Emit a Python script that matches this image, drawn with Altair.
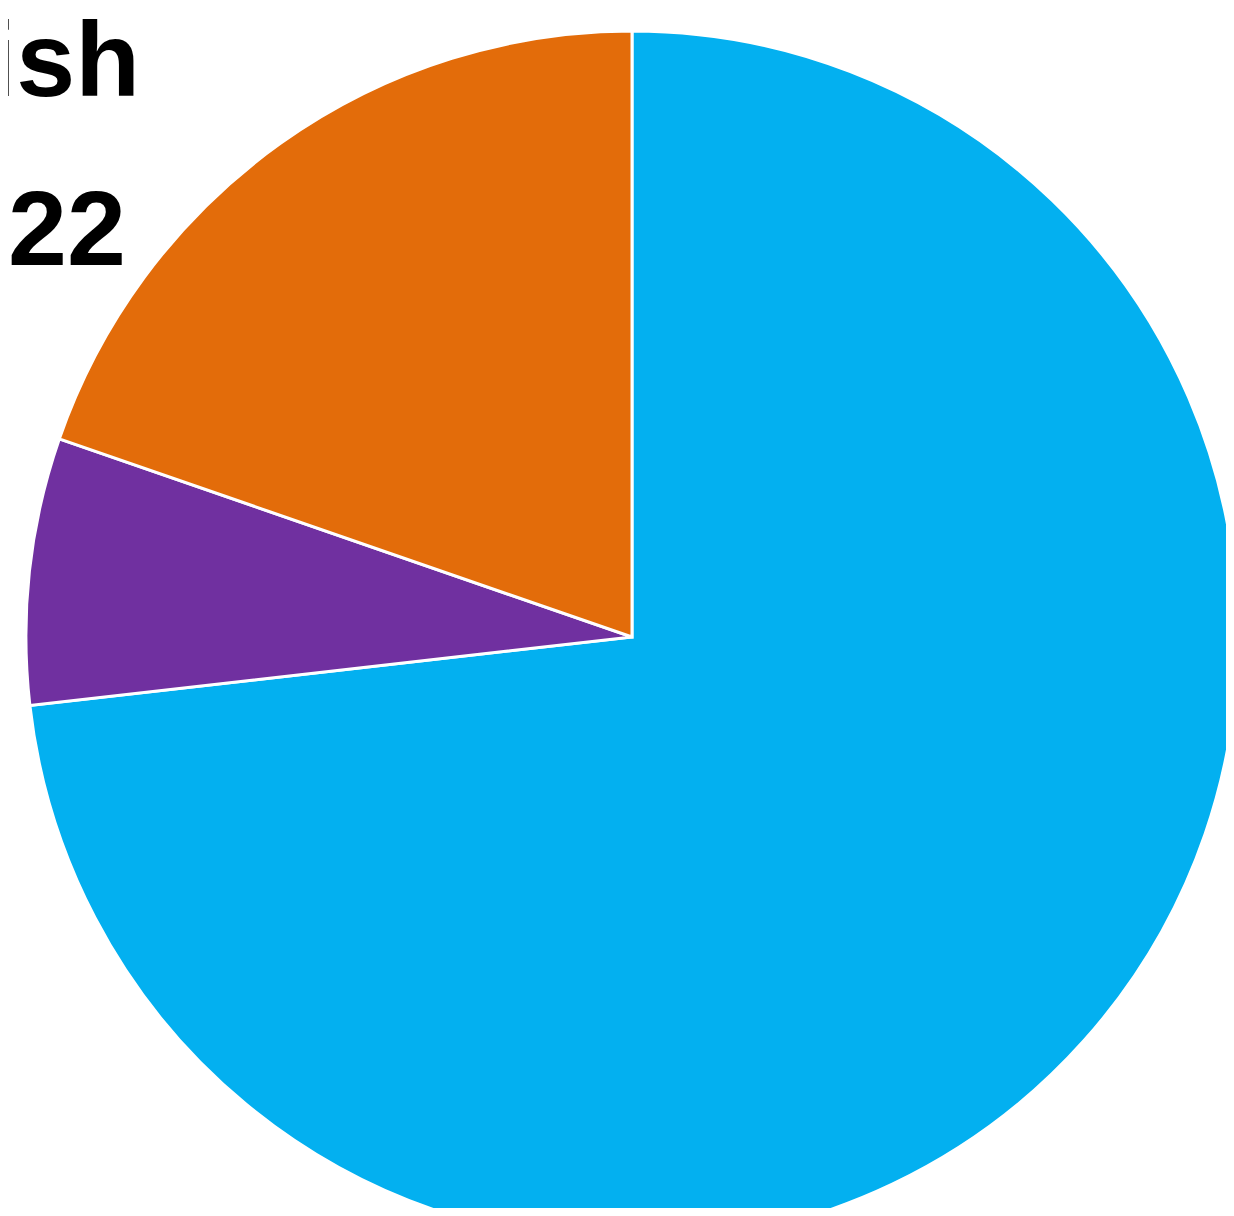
import altair as alt
import pandas as pd

categories = ["Blue share", "Purple share", "Orange share"]
values = [73.2, 7.1, 19.7]
order = [1, 2, 3]
colors = ["#03B0F0", "#7030A0", "#E36C0A"]
title_lines = ["Proportion who speak English", "Census 2022"]

df = pd.DataFrame({"category": categories, "value": values, "order": order})

pie = alt.Chart(df).mark_arc(radius=606, stroke="white", strokeWidth=3).encode(
    theta=alt.Theta("value:Q", stack=True),
    order=alt.Order("order:Q"),
    color=alt.Color("category:N", scale=alt.Scale(domain=categories, range=colors), legend=None),
    x=alt.value(624),
    y=alt.value(629),
)

t1 = alt.Chart(pd.DataFrame({"t": [title_lines[0]]})).mark_text(
    align="right", baseline="alphabetic", font="Liberation Sans", fontWeight="bold",
    fontSize=106, color="black"
).encode(text="t:N", x=alt.value(132), y=alt.value(88))

t2 = alt.Chart(pd.DataFrame({"t": [title_lines[1]]})).mark_text(
    align="right", baseline="alphabetic", font="Liberation Sans", fontWeight="bold",
    fontSize=106, color="black"
).encode(text="t:N", x=alt.value(118), y=alt.value(257))

chart = alt.layer(pie, t1, t2).properties(
    width=1218, height=1200,
    autosize=alt.AutoSizeParams(type="none"),
    padding=0,
).configure_view(stroke=None)

chart.save("out.html", embed_options={"renderer": "svg", "actions": False})
